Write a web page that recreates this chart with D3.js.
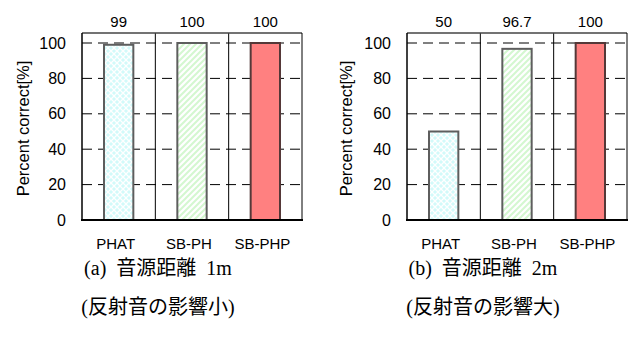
<!DOCTYPE html>
<html>
<head>
<meta charset="utf-8">
<script src="https://cdn.jsdelivr.net/npm/d3@7"></script>
<style>
  body { margin: 0; background: #fff; }
  svg { display: block; }
</style>
</head>
<body>
<div id="chart"></div>
<script>
// Data
const categories = ["PHAT", "SB-PH", "SB-PHP"];
const values1m = [99, 100, 100];
const values2m = [50, 96.7, 100];
const valueLabels1m = ["99", "100", "100"];
const valueLabels2m = ["50", "96.7", "100"];
const yTicks = [0, 20, 40, 60, 80, 100];
const yLabel = "Percent correct[%]";
const captionsA = ["(a)  音源距離  1m", "(反射音の影響小)"];
const captionsB = ["(b)  音源距離  2m", "(反射音の影響大)"];

const W = 635, H = 340;
const svg = d3.select("#chart").append("svg")
    .attr("width", W)
    .attr("height", H);

// fill patterns
const defs = svg.append("defs");
const cross = defs.append("pattern")
    .attr("id", "pat-cross")
    .attr("patternUnits", "userSpaceOnUse")
    .attr("width", 6).attr("height", 6);
cross.append("rect").attr("width", 6).attr("height", 6).attr("fill", "#d2fafa");
cross.append("path").attr("d", "M0,0 L6,6 M6,0 L0,6").attr("stroke", "#fff").attr("stroke-width", 1.3);

const diag = defs.append("pattern")
    .attr("id", "pat-diag")
    .attr("patternUnits", "userSpaceOnUse")
    .attr("width", 6).attr("height", 6);
diag.append("rect").attr("width", 6).attr("height", 6).attr("fill", "#fff");
diag.append("path").attr("d", "M-1,7 L7,-1 M-4,4 L4,-4 M2,10 L10,2").attr("stroke", "#d4f7d0").attr("stroke-width", 2);

const fills = ["url(#pat-cross)", "url(#pat-diag)", "#ff8080"];
const strokes = ["#5e5e5e", "#5e5e5e", "#553838"];

function drawPanel(left, labelX, values, labels, captions) {
    const x0 = left, x1 = left + 220;
    const yTop = 33, yBottom = 220;

    const x = d3.scaleBand()
        .domain(categories)
        .range([x0, x1])
        .padding(0);
    const y = d3.scaleLinear()
        .domain([0, 100])
        .range([yBottom, 43]);

    const g = svg.append("g");

    // dashed grid
    g.selectAll(".grid")
        .data(yTicks.filter(d => d > 0))
        .enter().append("line")
        .attr("x1", x0).attr("x2", x1)
        .attr("y1", d => y(d)).attr("y2", d => y(d))
        .attr("stroke", "#000")
        .attr("stroke-width", 1)
        .attr("stroke-dasharray", "10,6");

    // separators
    g.selectAll(".sep")
        .data(categories.slice(1))
        .enter().append("line")
        .attr("x1", d => x(d)).attr("x2", d => x(d))
        .attr("y1", yTop).attr("y2", yBottom)
        .attr("stroke", "#000");

    // bars
    const bw = x.bandwidth() * 0.4;
    g.selectAll(".bar")
        .data(values)
        .enter().append("rect")
        .attr("x", (d, i) => x(categories[i]) + (x.bandwidth() - bw) / 2)
        .attr("y", d => y(d))
        .attr("width", bw)
        .attr("height", d => yBottom - y(d))
        .attr("fill", (d, i) => fills[i])
        .attr("stroke", (d, i) => strokes[i])
        .attr("stroke-width", 2);

    // frame
    g.append("line").attr("x1", x0).attr("x2", x1).attr("y1", yTop).attr("y2", yTop)
        .attr("stroke", "#444").attr("stroke-width", 1.5);
    g.append("line").attr("x1", x1).attr("x2", x1).attr("y1", yTop).attr("y2", yBottom)
        .attr("stroke", "#000");
    g.append("line").attr("x1", x0).attr("x2", x0).attr("y1", yTop).attr("y2", yBottom)
        .attr("stroke", "#000").attr("stroke-width", 1.5);
    g.append("line").attr("x1", x0 - 1).attr("x2", x1 + 1).attr("y1", yBottom).attr("y2", yBottom)
        .attr("stroke", "#000").attr("stroke-width", 2);

    // y axis
    const axis = g.append("g")
        .attr("transform", `translate(${x0},0)`)
        .call(d3.axisLeft(y).tickValues(yTicks).tickSize(0).tickPadding(16));
    axis.select(".domain").remove();
    axis.selectAll("text")
        .style("font-family", "'Liberation Sans', Arial, sans-serif")
        .style("font-size", "16px")
        .attr("fill", "#000");

    // y label
    g.append("text")
        .attr("transform", `translate(${labelX},${(yTop + yBottom) / 2 + 2}) rotate(-90)`)
        .attr("text-anchor", "middle")
        .attr("dominant-baseline", "middle")
        .style("font-family", "'Liberation Sans', Arial, sans-serif")
        .style("font-size", "16.5px")
        .text(yLabel);

    // value labels
    g.selectAll(".val")
        .data(labels)
        .enter().append("text")
        .attr("x", (d, i) => x(categories[i]) + x.bandwidth() / 2)
        .attr("y", 27)
        .attr("text-anchor", "middle")
        .style("font-family", "'Liberation Sans', Arial, sans-serif")
        .style("font-size", "15px")
        .text(d => d);

    // category labels
    g.selectAll(".cat")
        .data(categories)
        .enter().append("text")
        .attr("x", d => x(d) + x.bandwidth() / 2 - 3)
        .attr("y", 249)
        .attr("text-anchor", "middle")
        .style("font-family", "'Liberation Sans', Arial, sans-serif")
        .style("font-size", "15px")
        .text(d => d);

    // captions
    g.selectAll(".cap")
        .data(captions)
        .enter().append("text")
        .attr("x", x0 + 76)
        .attr("y", (d, i) => 275 + i * 39)
        .attr("text-anchor", "middle")
        .style("font-family", "'Liberation Serif', 'Noto Sans CJK JP', serif")
        .style("font-size", "20px")
        .style("white-space", "pre")
        .text(d => d);
}

drawPanel(82, 25, values1m, valueLabels1m, captionsA);
drawPanel(407, 348, values2m, valueLabels2m, captionsB);
</script>
</body>
</html>
